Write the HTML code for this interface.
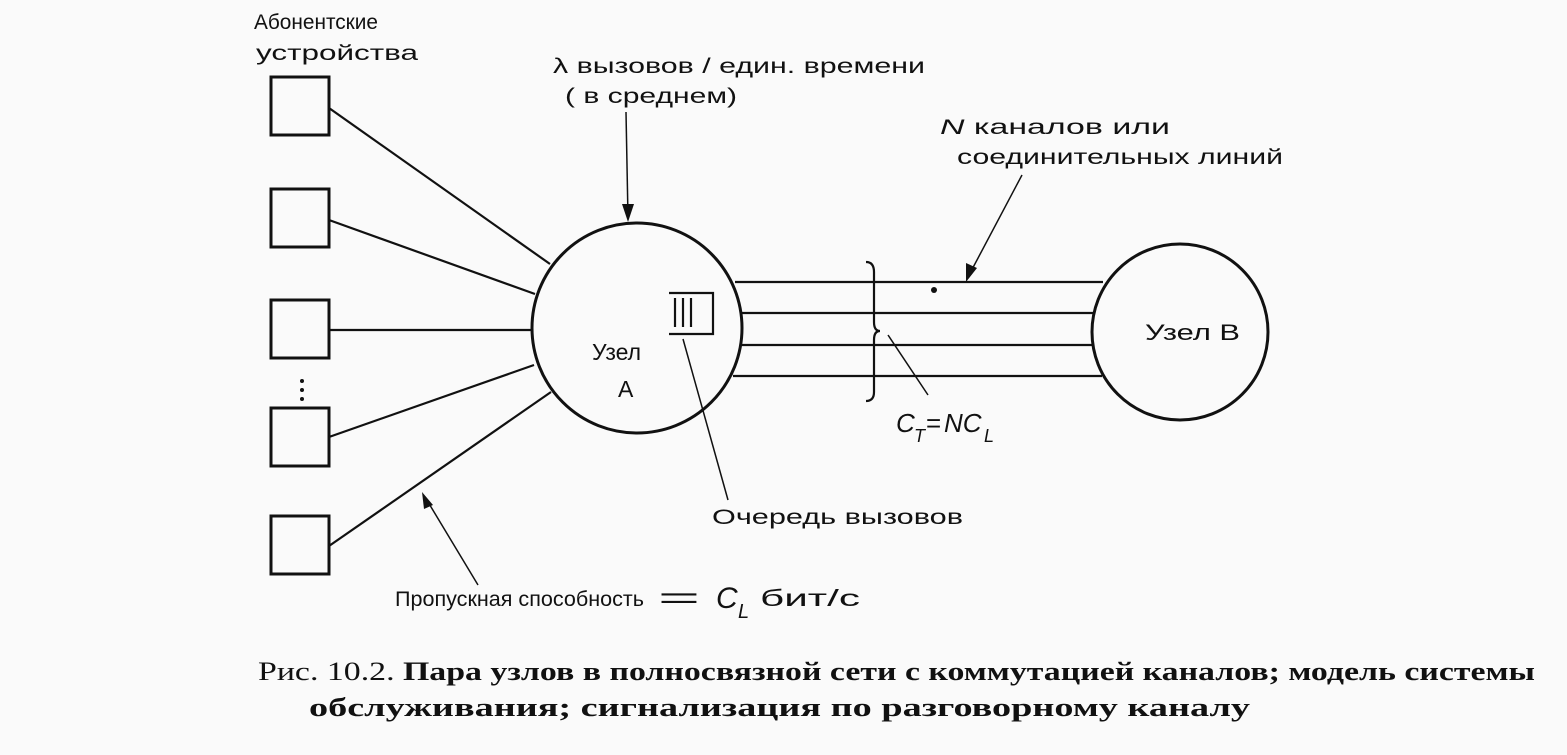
<!DOCTYPE html>
<html><head><meta charset="utf-8"><style>
body{margin:0;background:#fafafa;}
svg text{font-family:"Liberation Sans","DejaVu Sans",sans-serif;fill:#111;}
</style></head><body>
<svg width="1567" height="750" viewBox="0 0 1567 750" xmlns="http://www.w3.org/2000/svg">
<rect width="1567" height="750" fill="#fafafa"/>
<g fill="none" stroke="#111" stroke-width="3">
<rect x="271" y="77" width="58" height="58"/>
<rect x="271" y="189" width="58" height="58"/>
<rect x="271" y="300" width="58" height="58"/>
<rect x="271" y="408" width="58" height="58"/>
<rect x="271" y="516" width="58" height="58"/>
<circle cx="637" cy="328" r="105"/>
<circle cx="1180" cy="332" r="88"/>
</g>
<g stroke="#111" stroke-width="2.2" fill="none">
<line x1="329" y1="108" x2="550" y2="264"/>
<line x1="329" y1="220" x2="535" y2="294"/>
<line x1="329" y1="330" x2="532" y2="330"/>
<line x1="329" y1="437" x2="534" y2="365"/>
<line x1="329" y1="546" x2="551" y2="392"/>
<line x1="735" y1="282" x2="1103" y2="282"/>
<line x1="742" y1="313" x2="1094" y2="313"/>
<line x1="742" y1="345" x2="1093" y2="345"/>
<line x1="733" y1="376" x2="1102" y2="376"/>
<path d="M669 293 H713 V334 H669"/>
<line x1="675" y1="298" x2="675" y2="327"/><line x1="683" y1="298" x2="683" y2="327"/><line x1="691" y1="298" x2="691" y2="327"/>
<path d="M866 262 Q874 262 874 272 V322 Q874 331 880 331 Q874 331 874 340 V392 Q874 401 866 401"/>
</g>
<g stroke="#111" stroke-width="1.5" fill="none">
<line x1="626" y1="112" x2="628" y2="218"/>
<line x1="683" y1="339" x2="728" y2="500"/>
<line x1="888" y1="335" x2="928" y2="395"/>
<line x1="1022" y1="175" x2="968" y2="277"/>
<line x1="478" y1="585" x2="425" y2="497"/>
</g>
<g fill="#111">
<polygon points="628,222 622,204 634,204"/>
<polygon points="966,282 966,263 977,268"/>
<polygon points="422,492 433,505 424,509"/>
<circle cx="302" cy="381" r="2"/><circle cx="302" cy="390" r="2"/><circle cx="302" cy="399" r="2"/>
<circle cx="934" cy="290" r="3"/>
</g>
<g font-size="21">
<text x="254" y="29" textLength="124" lengthAdjust="spacingAndGlyphs">Абонентские</text>
<text x="256" y="60" textLength="162" lengthAdjust="spacingAndGlyphs">устройства</text>
<text x="553" y="73" textLength="372" lengthAdjust="spacingAndGlyphs">λ вызовов / един. времени</text>
<text x="565" y="103" textLength="172" lengthAdjust="spacingAndGlyphs">( в среднем)</text>
<text x="940" y="134" textLength="230" lengthAdjust="spacingAndGlyphs"><tspan font-style="italic">N</tspan> каналов или</text>
<text x="957" y="164" textLength="326" lengthAdjust="spacingAndGlyphs">соединительных линий</text>
<text x="592" y="360" font-size="23">Узел</text>
<text x="618" y="397" font-size="23">А</text>
<text x="1145" y="340" font-size="22" textLength="95" lengthAdjust="spacingAndGlyphs">Узел В</text>
<text x="896" y="432" font-style="italic" font-size="26">C</text><text x="914" y="442" font-style="italic" font-size="18">T</text><text x="926" y="432" font-size="26">=</text><text x="944" y="432" font-size="26" font-style="italic">NC</text><text x="984" y="442" font-style="italic" font-size="18">L</text>
<text x="712" y="524" textLength="251" lengthAdjust="spacingAndGlyphs">Очередь вызовов</text>
<text x="395" y="606" textLength="249" lengthAdjust="spacingAndGlyphs">Пропускная способность</text>
<text x="658" y="608" font-size="30" textLength="42" lengthAdjust="spacingAndGlyphs">=</text>
<text x="716" y="608" font-style="italic" font-size="30">C</text><text x="738" y="618" font-style="italic" font-size="20">L</text>
<text x="760" y="606" font-size="23" textLength="100" lengthAdjust="spacingAndGlyphs">бит/с</text>
</g>
<g font-size="26">
<text x="258" y="680" textLength="1277" lengthAdjust="spacingAndGlyphs" style="font-family:'Liberation Serif',serif">Рис. 10.2. <tspan font-weight="bold">Пара узлов в полносвязной сети с коммутацией каналов; модель системы</tspan></text>
<text x="309" y="716" font-weight="bold" textLength="941" lengthAdjust="spacingAndGlyphs" style="font-family:'Liberation Serif',serif">обслуживания; сигнализация по разговорному каналу</text>
</g>
</svg>
</body></html>
